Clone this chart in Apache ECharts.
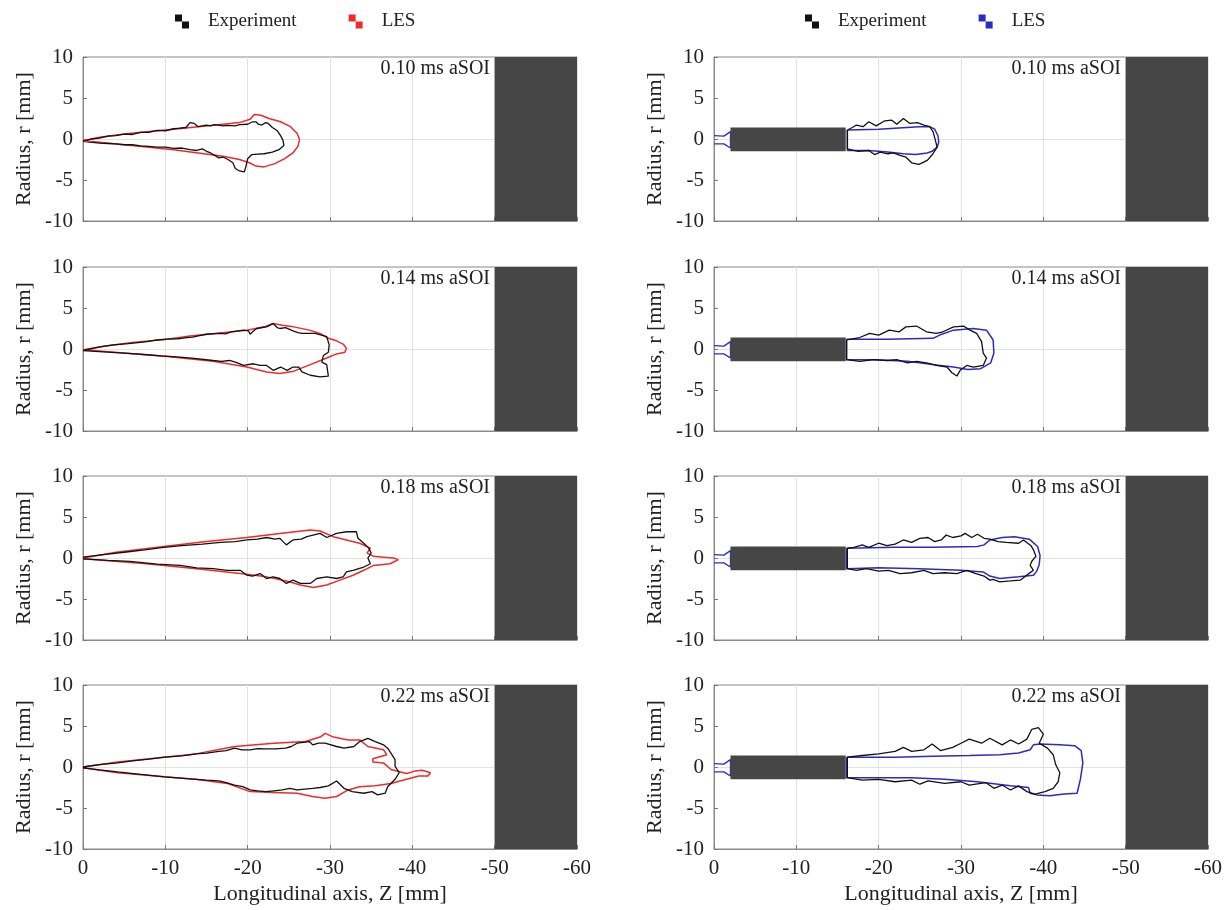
<!DOCTYPE html>
<html><head><meta charset="utf-8">
<script src="https://cdn.jsdelivr.net/npm/echarts@6/dist/echarts.min.js"></script>
<style>html,body{margin:0;padding:0;background:#fff}#c{width:1228px;height:910px}</style>
</head><body><div id="c"></div>
<script>
// ---------- data (Z [mm], r [mm]) ----------
const timeLabels = ['0.10 ms aSOI', '0.14 ms aSOI', '0.18 ms aSOI', '0.22 ms aSOI'];
const zTicks = [0, -10, -20, -30, -40, -50, -60];
const rTicks = [-10, -5, 0, 5, 10];
const chamberWall = { z: [-50, -60], r: [-10, 10] };
const needleBody = { z: [-2, -16], r: [-1.5, 1.4] };

// Left column: Experiment vs LES (red)
const expL010 = [[0,-0.3],[-1,0.0],[-2,0.1],[-3,0.35],[-4,0.4],[-5,0.6],[-6,0.55],[-7,0.8],[-8,0.8],[-9,1.05],[-10,1.0],[-11,1.25],[-11.5,1.3],[-12.5,1.4],[-13,2.0],[-13.5,1.9],[-14,1.5],[-15,1.7],[-15.5,1.6],[-16,1.75],[-17,1.6],[-17.5,1.65],[-18.5,1.6],[-19,1.75],[-20,1.8],[-20.6,2.1],[-21,2.1],[-21.3,1.8],[-21.7,1.7],[-22.2,2.0],[-22.5,1.9],[-23,1.4],[-23.6,1.0],[-24,0.4],[-24.3,-0.2],[-24.4,-0.8],[-23.8,-1.3],[-23,-1.6],[-22,-1.8],[-21.2,-1.85],[-20.5,-1.9],[-20,-2.4],[-19.8,-3.3],[-19.6,-4.0],[-19.0,-3.9],[-18.5,-3.6],[-18.2,-2.9],[-17.6,-2.5],[-17,-2.2],[-16.5,-2.3],[-16,-2.0],[-15.5,-1.7],[-15,-1.5],[-14.5,-1.2],[-13.8,-1.4],[-13,-1.3],[-12,-1.1],[-11,-1.15],[-10,-1.0],[-9,-1.0],[-8,-0.9],[-7,-0.85],[-6,-0.7],[-5,-0.7],[-4,-0.6],[-3,-0.55],[-2,-0.5],[0,-0.3]];
const lesL010 = [[0,-0.2],[-2,0.2],[-5,0.6],[-8,0.9],[-11,1.2],[-14,1.5],[-17,1.8],[-19,2.0],[-20.3,2.4],[-20.8,3.0],[-21.6,2.9],[-22.6,2.5],[-24,2.1],[-25.2,1.5],[-26,0.7],[-26.3,-0.1],[-26.1,-0.9],[-25.5,-1.7],[-24.5,-2.4],[-23.3,-3.0],[-22,-3.4],[-21,-3.3],[-20.2,-2.9],[-19,-2.5],[-17,-2.1],[-14,-1.7],[-11,-1.3],[-8,-1.0],[-5,-0.7],[-2,-0.4],[0,-0.2]];

const expL014 = [[0,-0.2],[-2,0.25],[-3.7,0.5],[-5.5,0.65],[-7.8,0.9],[-9,1.1],[-10.2,1.2],[-11.5,1.25],[-12.6,1.4],[-13.3,1.45],[-14,1.6],[-15,1.8],[-16.6,1.9],[-17.3,1.85],[-18,2.1],[-19.5,2.3],[-20.1,2.2],[-20.3,1.8],[-20.6,2.1],[-21.1,2.5],[-22.3,2.7],[-23.1,3.1],[-23.6,2.6],[-23.9,2.5],[-24.6,2.6],[-25.5,2.2],[-26.1,2.0],[-26.6,1.9],[-28.2,1.9],[-29.6,1.5],[-29.9,0.5],[-29.8,-0.4],[-29.2,-0.8],[-29.0,-1.6],[-29.6,-1.9],[-29.8,-3.3],[-28.8,-3.4],[-27.6,-3.2],[-26.6,-2.8],[-26.2,-2.2],[-25.5,-2.2],[-24.8,-2.6],[-24,-2.2],[-23.1,-2.6],[-22.3,-2.0],[-21.5,-2.0],[-20.7,-1.8],[-19.5,-2.0],[-18.5,-1.6],[-17.8,-1.4],[-16.8,-1.5],[-15.8,-1.4],[-13.5,-1.15],[-11.8,-1.0],[-9.5,-0.85],[-7.8,-0.7],[-5,-0.5],[-2.5,-0.35],[0,-0.2]];
const lesL014 = [[0,-0.1],[-3,0.4],[-6,0.8],[-10.2,1.2],[-13,1.6],[-16,1.9],[-19.9,2.3],[-22,2.7],[-23.1,3.1],[-24.2,2.9],[-25.6,2.7],[-27.5,2.3],[-28.8,1.9],[-29.8,1.3],[-30.8,1.0],[-31.6,0.6],[-32,0.1],[-31.8,-0.4],[-30.8,-0.6],[-29.6,-1.1],[-27.6,-1.9],[-25.6,-2.7],[-23.9,-3.0],[-22.3,-2.8],[-19.9,-2.2],[-15.8,-1.5],[-10.2,-0.9],[-5,-0.5],[0,-0.1]];

const expL018 = [[0,0.1],[-2.5,0.4],[-5,0.7],[-7.5,1.0],[-9.8,1.3],[-12,1.5],[-14.5,1.7],[-16.7,1.9],[-18.5,2.0],[-19.9,2.2],[-21.2,2.3],[-22.3,2.5],[-23.3,2.3],[-23.9,2.4],[-24.3,2.0],[-24.7,1.6],[-25.5,2.2],[-26.5,2.3],[-27.2,2.6],[-28.8,3.0],[-29.6,2.5],[-30.8,3.0],[-32.0,3.2],[-33.2,3.2],[-33.4,2.4],[-34.1,1.8],[-34.7,1.2],[-35.0,0.6],[-34.6,0],[-34.9,-0.7],[-34.1,-1.1],[-32.8,-1.5],[-32,-1.7],[-31.6,-2.3],[-30.8,-2.5],[-29.6,-2.3],[-28.4,-2.5],[-27.6,-3.1],[-26.4,-3.1],[-25.5,-2.7],[-24.7,-3.1],[-23.9,-2.5],[-23.1,-2.3],[-22.3,-2.5],[-21.5,-1.9],[-20.6,-2.2],[-19.9,-2.1],[-19.1,-1.5],[-17.5,-1.5],[-15.8,-1.3],[-13.8,-1.2],[-11.8,-0.9],[-9,-0.75],[-5.7,-0.4],[-3,-0.3],[0,-0.1]];
const lesL018 = [[0,0],[-4,0.7],[-9.8,1.4],[-15,2.0],[-19.9,2.5],[-23.9,3.0],[-27.6,3.4],[-28.8,3.3],[-30.4,2.6],[-32,2.2],[-33.6,1.8],[-34.9,1.2],[-34.5,0.6],[-35.3,0.2],[-36.5,0.1],[-37.7,0],[-38.3,-0.2],[-37.3,-0.7],[-35.3,-0.9],[-34.1,-1.5],[-32.8,-2.1],[-31.2,-2.7],[-29.6,-3.3],[-28,-3.6],[-26.4,-3.3],[-24.7,-2.8],[-22.3,-2.3],[-19.1,-1.9],[-13.8,-1.3],[-7.7,-0.7],[0,-0.1]];

const expL022 = [[0,0],[-2,0.3],[-4.2,0.5],[-6,0.75],[-8,0.95],[-9.9,1.2],[-12,1.35],[-13.7,1.6],[-15,1.7],[-16.5,1.9],[-17.4,2.0],[-18.4,2.3],[-19.3,2.1],[-20.3,2.1],[-21.2,2.25],[-22.2,2.2],[-23.4,2.2],[-24.6,2.3],[-25.3,2.5],[-26.0,2.9],[-27.5,3.1],[-27.9,2.7],[-28.6,2.9],[-29.4,2.9],[-30.8,2.5],[-31.7,2.3],[-32.9,2.5],[-33.6,3.1],[-34.6,3.5],[-35.5,3.1],[-36.5,2.7],[-37.0,2.3],[-37.4,1.7],[-37.9,0.9],[-37.9,0.1],[-38.4,-0.7],[-37.9,-1.5],[-37.0,-2.4],[-36.7,-3.2],[-35.8,-3.4],[-35.1,-3.0],[-34.1,-3.2],[-32.7,-3.0],[-31.7,-2.6],[-30.8,-1.7],[-29.8,-2.3],[-28.8,-2.5],[-27.9,-2.6],[-26.0,-2.8],[-25.1,-2.6],[-24.2,-2.8],[-23.2,-2.9],[-22.2,-3.0],[-21.2,-2.9],[-20.3,-2.8],[-19.4,-2.4],[-18.4,-2.2],[-17.4,-1.9],[-16.5,-1.7],[-15,-1.6],[-13.7,-1.5],[-11.8,-1.35],[-9.9,-1.2],[-7,-0.9],[-4.2,-0.6],[-2,-0.35],[0,-0.1]];
const lesL022 = [[0,0],[-4.2,0.6],[-9.9,1.2],[-13.7,1.6],[-18.4,2.5],[-23.2,2.9],[-27.0,3.1],[-28.9,3.7],[-29.4,4.1],[-30.3,3.7],[-32.2,3.3],[-33.6,3.3],[-34.6,2.5],[-36.5,2.1],[-36.9,1.5],[-35.2,1.0],[-35.2,0.6],[-36.5,0.5],[-37.4,-0.3],[-39.3,-0.8],[-40.3,-0.5],[-41.2,-0.4],[-42.2,-0.7],[-41.9,-1.1],[-40.8,-1.1],[-39.3,-1.5],[-37.4,-2.0],[-35.5,-2.3],[-33.6,-2.4],[-32.2,-2.8],[-30.8,-3.6],[-29.4,-3.8],[-27.9,-3.6],[-26.0,-3.2],[-23.2,-3.1],[-20.3,-3.0],[-17.5,-2.0],[-13.7,-1.5],[-9.9,-1.2],[-4.2,-0.7],[0,-0.1]];

// Right column: Experiment vs LES (blue)
const lesNozzle = [[0,0.4],[-1.2,0.35],[-2,0.9],[-2,-1.1],[-1.2,-0.6],[0,-0.6]];

const expR010 = [[-16.2,1.1],[-16.8,1.4],[-17.3,1.7],[-18.1,1.5],[-18.8,2.1],[-19.7,1.6],[-20.7,2.2],[-21.6,2.3],[-22.2,1.8],[-23.0,2.5],[-23.8,1.9],[-24.7,2.0],[-25.5,1.7],[-26.2,1.5],[-26.6,0.9],[-26.9,-0.2],[-27.1,-1.0],[-26.6,-1.8],[-25.9,-2.6],[-24.9,-3.1],[-24.0,-2.9],[-23.3,-2.2],[-22.6,-2.0],[-21.8,-1.7],[-21.1,-1.8],[-20.2,-1.6],[-19.5,-1.9],[-18.8,-1.4],[-17.5,-1.5],[-16.2,-1.2],[-16.2,1.1]];
const lesR010 = [[-16.2,1.1],[-20,1.2],[-24.9,1.5],[-26.2,1.5],[-26.8,1.2],[-27.2,0.4],[-27.3,-0.4],[-27.1,-1.0],[-26.5,-1.5],[-25.9,-1.7],[-24.5,-1.9],[-23,-1.8],[-21.1,-1.6],[-18.8,-1.4],[-16.2,-1.4],[-16.2,1.1]];

const expR014 = [[-16.1,1.1],[-17.7,1.4],[-18.9,1.9],[-20.0,1.7],[-21.3,2.3],[-22.5,2.1],[-23.3,2.7],[-24.6,2.8],[-25.8,2.1],[-27.0,1.9],[-27.8,2.1],[-29.1,2.7],[-30.3,2.8],[-31.1,2.3],[-31.9,1.9],[-32.5,0.9],[-32.7,-0.5],[-33.1,-1.1],[-32.7,-2.0],[-31.5,-2.2],[-30.7,-2.0],[-29.9,-2.6],[-29.5,-3.3],[-28.9,-2.9],[-28.3,-2.2],[-27.0,-2.0],[-25.8,-1.7],[-24.6,-1.5],[-23.5,-1.7],[-22.2,-1.3],[-21.0,-1.4],[-19.4,-1.3],[-17.7,-1.5],[-16.1,-1.3],[-16.1,1.1]];
const lesR014 = [[-16.1,1.2],[-21,1.2],[-26.6,1.3],[-27.4,1.7],[-29.1,2.3],[-31.5,2.5],[-33.1,2.3],[-33.9,1.1],[-34.0,-0.5],[-33.6,-1.7],[-32.4,-2.4],[-30.8,-2.5],[-29.1,-2.2],[-27.5,-2.0],[-23.5,-1.5],[-19.4,-1.3],[-16.1,-1.3],[-16.1,1.2]];

const expR018 = [[-16.2,1.2],[-17,1.3],[-18,1.6],[-18.8,1.3],[-20,1.8],[-21,1.5],[-22,1.7],[-23,2.2],[-24,1.9],[-25,2.4],[-26,2.5],[-26.8,2.0],[-27.6,2.2],[-28.2,2.8],[-29,2.5],[-30,2.7],[-30.5,3.0],[-31.3,2.5],[-32,2.9],[-32.8,2.4],[-33.5,2.3],[-34.5,2.0],[-35.5,1.9],[-37,1.8],[-37.6,2.2],[-38.5,1.5],[-38.8,1.0],[-39.1,0.2],[-38.6,-0.4],[-38.4,-0.9],[-38.8,-1.5],[-38.1,-2.0],[-37.2,-2.7],[-36,-2.8],[-34.7,-2.9],[-33.9,-2.6],[-33.5,-2.7],[-32.8,-2.2],[-31.8,-1.9],[-30.7,-1.5],[-29.5,-1.9],[-28,-1.8],[-26.6,-1.9],[-25.5,-1.5],[-24,-1.8],[-22.6,-1.9],[-21.2,-1.5],[-20,-1.6],[-18.5,-1.3],[-17.3,-1.5],[-16.2,-1.3],[-16.2,1.2]];
const lesR018 = [[-16.1,1.2],[-22,1.3],[-26.6,1.3],[-32,1.4],[-32.8,1.6],[-33.5,2.2],[-35,2.5],[-36.5,2.6],[-38.3,2.3],[-39.3,1.4],[-39.6,0.3],[-39.5,-0.8],[-39.2,-1.6],[-38.8,-2.1],[-37,-2.3],[-34.7,-2.5],[-33.5,-2.2],[-32.7,-1.7],[-30,-1.5],[-25,-1.3],[-20,-1.2],[-16.1,-1.3],[-16.1,1.2]];

const expR022 = [[-16.2,1.2],[-18,1.4],[-20,1.6],[-22,1.9],[-23,2.4],[-24,1.9],[-25.5,2.1],[-26.5,2.8],[-27.5,2.0],[-29,2.4],[-30,2.9],[-31,3.4],[-32.5,2.9],[-33.5,3.5],[-35,2.7],[-36,3.3],[-37,2.8],[-38,3.4],[-38.6,4.6],[-39.4,4.8],[-40,4.0],[-39.5,2.9],[-40.5,2.3],[-41.2,1.5],[-41.5,0.3],[-42,-0.7],[-41.8,-1.8],[-41.2,-2.6],[-40.2,-3.0],[-39,-3.3],[-38,-3.0],[-37,-2.3],[-36,-2.8],[-35,-2.2],[-34,-2.6],[-33,-1.9],[-31,-2.2],[-30,-1.8],[-28,-2.0],[-26,-1.7],[-25,-2.1],[-24,-1.6],[-22,-1.8],[-20,-1.5],[-18,-1.6],[-16.2,-1.3],[-16.2,1.2]];
const lesR022 = [[-16.1,1.2],[-22,1.2],[-26.6,1.3],[-31,1.4],[-34.7,1.5],[-37,1.7],[-38.4,2.1],[-38.8,2.7],[-39.6,2.8],[-42,2.7],[-43.8,2.6],[-44.6,2.0],[-44.8,0.5],[-44.5,-1.5],[-44.1,-3.2],[-42.5,-3.3],[-40.8,-3.5],[-39.2,-3.4],[-38.4,-3.2],[-38.2,-2.5],[-36,-2.3],[-32,-1.8],[-28,-1.5],[-24,-1.3],[-20,-1.3],[-16.1,-1.3],[-16.1,1.2]];

const leftExp = [expL010, expL014, expL018, expL022];
const leftLes = [lesL010, lesL014, lesL018, lesL022];
const rightExp = [expR010, expR014, expR018, expR022];
const rightLes = [lesR010, lesR014, lesR018, lesR022];

// ---------- layout / style ----------
const FONT = "'Liberation Serif', 'Times New Roman', serif";
const BLACK = '#111111', RED = '#ee2a2a', BLUE = '#2b2bc4', DARK = '#464646';
const colLeft = [83, 714], plotW = 494, plotH = 164;
const rowTop = [57, 267, 476, 685];

const grid = [], xAxis = [], yAxis = [], series = [], title = [];
for (let c = 0; c < 2; c++) {
  for (let r = 0; r < 4; r++) {
    const gi = grid.length;
    const bottomRow = r === 3;
    grid.push({ left: colLeft[c], top: rowTop[r], width: plotW, height: plotH,
      show: true, borderColor: '#8a8a8a', borderWidth: 1, backgroundColor: '#fff' });
    xAxis.push({ gridIndex: gi, type: 'value', min: zTicks[zTicks.length - 1], max: zTicks[0], interval: 10, inverse: true,
      name: bottomRow ? 'Longitudinal axis, Z [mm]' : '', nameLocation: 'middle', nameGap: 34,
      nameTextStyle: { fontFamily: FONT, fontSize: 22, color: '#222' },
      axisLine: { show: true, onZero: false, lineStyle: { color: '#8a8a8a' } },
      axisTick: { show: true, inside: true, length: 4, lineStyle: { color: '#777' } },
      axisLabel: { show: bottomRow, fontFamily: FONT, fontSize: 21, color: '#222', margin: 9 },
      splitLine: { show: true, lineStyle: { color: '#e2e2e2', width: 1 } } });
    yAxis.push({ gridIndex: gi, type: 'value', min: rTicks[0], max: rTicks[rTicks.length - 1], interval: 5,
      name: 'Radius, r [mm]', nameLocation: 'middle', nameGap: 48,
      nameTextStyle: { fontFamily: FONT, fontSize: 22, color: '#222' },
      axisLine: { show: true, onZero: false, lineStyle: { color: '#8a8a8a' } },
      axisTick: { show: true, inside: true, length: 4, lineStyle: { color: '#777' } },
      axisLabel: { fontFamily: FONT, fontSize: 21, color: '#222', margin: 10 },
      splitLine: { show: true, lineStyle: { color: ['rgba(0,0,0,0)', 'rgba(0,0,0,0)', '#e2e2e2', 'rgba(0,0,0,0)', 'rgba(0,0,0,0)'], width: 1 } } });
    title.push({ text: timeLabels[r], right: 1228 - (colLeft[c] + 407), top: rowTop[r] + 2, padding: 0,
      textStyle: { fontFamily: FONT, fontSize: 20, fontWeight: 'normal', color: '#222' } });

    const lesColor = c === 0 ? RED : BLUE;
    const sfx = c === 0 ? '' : ' ';
    const areas = [[{ xAxis: chamberWall.z[0], yAxis: chamberWall.r[0] }, { xAxis: chamberWall.z[1], yAxis: chamberWall.r[1] }]];
    if (c === 1) areas.push([{ xAxis: needleBody.z[0], yAxis: needleBody.r[0] }, { xAxis: needleBody.z[1], yAxis: needleBody.r[1] }]);
    if (c === 1) {
      series.push({ name: 'LES' + sfx, type: 'line', xAxisIndex: gi, yAxisIndex: gi, data: lesNozzle,
        showSymbol: false, symbol: 'none', lineStyle: { color: lesColor, width: 1.3 }, itemStyle: { color: lesColor }, z: 2 });
    }
    series.push({ name: 'LES' + sfx, type: 'line', xAxisIndex: gi, yAxisIndex: gi,
      data: (c === 0 ? leftLes : rightLes)[r], showSymbol: false, symbol: 'none',
      lineStyle: { color: lesColor, width: 1.5 }, itemStyle: { color: lesColor }, z: 3,
      markArea: { silent: true, itemStyle: { color: DARK, opacity: 1 }, data: areas, z: 5 } });
    series.push({ name: 'Experiment' + sfx, type: 'line', xAxisIndex: gi, yAxisIndex: gi,
      data: (c === 0 ? leftExp : rightExp)[r], showSymbol: false, symbol: 'none',
      lineStyle: { color: BLACK, width: 1.3 }, itemStyle: { color: BLACK }, z: 4 });
  }
}

const icon = 'path://M0,0h6v6h-6z M6,6h6v6h-6z';
const legendBase = { top: 7, orient: 'horizontal', itemWidth: 14, itemHeight: 14, itemGap: 52, icon: icon,
  textStyle: { fontFamily: FONT, fontSize: 19, color: '#222', padding: [0, 0, 0, 14] },
  formatter: n => n.trim(), selectedMode: false };

const chart = echarts.init(document.getElementById('c'), null, { renderer: 'canvas' });
chart.setOption({
  animation: false,
  backgroundColor: '#fff',
  title: title,
  legend: [
    Object.assign({}, legendBase, { left: 170, data: ['Experiment', 'LES'] }),
    Object.assign({}, legendBase, { left: 800, data: ['Experiment ', 'LES '] })
  ],
  grid: grid, xAxis: xAxis, yAxis: yAxis, series: series
});
</script></body></html>
